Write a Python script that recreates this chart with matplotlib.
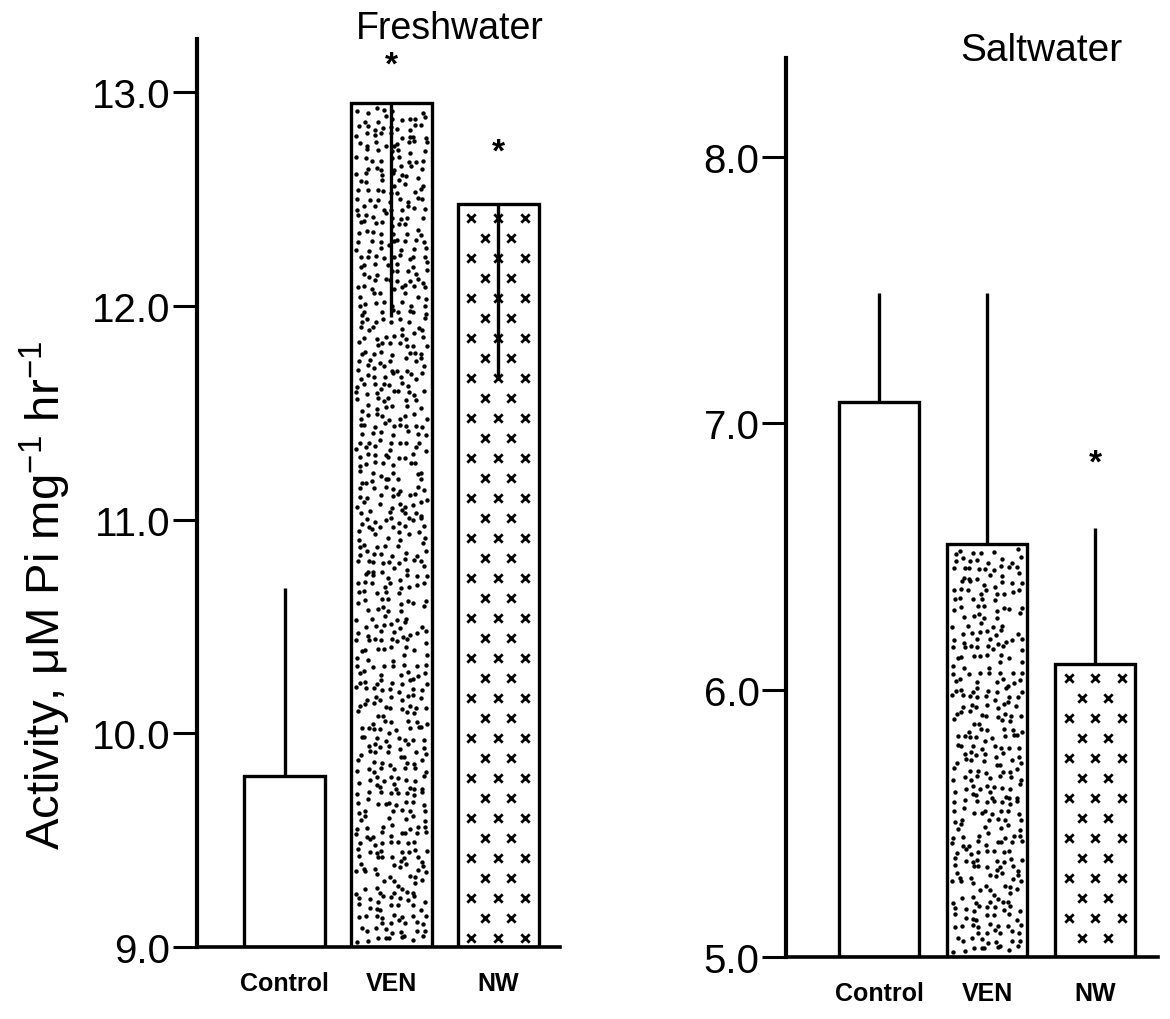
import numpy as np
import matplotlib
matplotlib.use("Agg")
import matplotlib.pyplot as plt

# ---- data -------------------------------------------------------------
categories = ["Control", "VEN", "NW"]

fresh_means = [9.80, 12.95, 12.48]
fresh_err = [0.88, 1.00, 0.82]
fresh_err_dir = [1, -1, -1]          # +1 drawn upward, -1 drawn down into the bar
fresh_sig = [False, True, True]

salt_means = [7.08, 6.55, 6.10]
salt_err = [0.41, 0.94, 0.51]
salt_err_dir = [1, 1, 1]
salt_sig = [False, False, True]

fresh_ticks = [9.0, 10.0, 11.0, 12.0, 13.0]
salt_ticks = [5.0, 6.0, 7.0, 8.0]

textures = ["none", "stipple", "crosses"]

# height (axis units) at which each significance star is set
fresh_star_at = [None, 13.13, 12.72]
salt_star_at = [None, None, 6.85]

# ---- styling ----------------------------------------------------------
plt.rcParams["font.family"] = ["Liberation Sans", "DejaVu Sans"]
INK = "black"
W, H = 1170, 1020
fig = plt.figure(figsize=(W / 100, H / 100), dpi=100)


def px_axes(x0, x1, ytop, ybot):
    return fig.add_axes([x0 / W, 1 - ybot / H, (x1 - x0) / W, (ybot - ytop) / H])


def _hash(a, b, salt):
    v = np.sin(a * 12.9898 + b * 78.233 + salt * 37.719) * 43758.5453
    return v - np.floor(v)


def stipple(ax, x0, x1, y0, y1, step_px=8.0):
    """Jittered-grid dot fill that reads as a printed stipple screen."""
    p0 = ax.transData.transform((x0, y0))
    p1 = ax.transData.transform((x1, y1))
    wpx, hpx = abs(p1[0] - p0[0]), abs(p1[1] - p0[1])
    nx = max(int((wpx - 6) / step_px), 1)
    ny = max(int((hpx - 6) / step_px), 1)
    ii, jj = np.meshgrid(np.arange(nx), np.arange(ny))
    ii = ii.ravel().astype(float)
    jj = jj.ravel().astype(float)
    jx = (_hash(ii, jj, 1.0) - 0.5) * 0.8
    jy = (_hash(ii, jj, 2.0) - 0.5) * 0.8
    keep = _hash(ii, jj, 3.0) > 0.15
    fx = (ii + 0.5 + jx) / nx
    fy = (jj + 0.5 + jy) / ny
    mx, my = 4.0 / wpx, 4.0 / hpx
    xs = x0 + (mx + fx * (1 - 2 * mx)) * (x1 - x0)
    ys = y0 + (my + fy * (1 - 2 * my)) * (y1 - y0)
    ax.scatter(xs[keep], ys[keep], s=10, c=INK, marker="o", linewidths=0, zorder=3)


def crosses(ax, x0, x1, y0, y1, row_px=20.0):
    """Staggered rows of small x marks (3 then 2 per row)."""
    p0 = ax.transData.transform((x0, y0))
    p1 = ax.transData.transform((x1, y1))
    hpx = abs(p1[1] - p0[1])
    dy = (y1 - y0) * row_px / hpx
    w = x1 - x0
    y = y1 - dy * 0.7
    k = 0
    while y > y0 + dy * 0.3:
        fr = [0.17, 0.5, 0.83] if k % 2 == 0 else [0.34, 0.66]
        ax.scatter([x0 + f * w for f in fr], [y] * len(fr), marker="x", s=36,
                   c=INK, linewidths=2.0, zorder=3)
        y -= dy
        k += 1


def panel(ax, means, errs, dirs, stars, ticks, ylim, xlim, width,
          title, title_x, title_y, title_size):
    ax.set_xlim(*xlim)
    ax.set_ylim(*ylim)
    xpos = np.arange(len(categories))
    bars = ax.bar(xpos, [m - ylim[0] for m in means], bottom=ylim[0], width=width,
                  color="white", edgecolor=INK, linewidth=2.4, zorder=2)
    for b, tex in zip(bars, textures):
        bx0 = b.get_x()
        bx1 = bx0 + b.get_width()
        by0 = b.get_y()
        by1 = by0 + b.get_height()
        if tex == "stipple":
            stipple(ax, bx0, bx1, by0, by1)
        elif tex == "crosses":
            crosses(ax, bx0, bx1, by0, by1)
    for x, m, e, d in zip(xpos, means, errs, dirs):
        ax.plot([x, x], [m, m + d * e], color=INK, lw=2.4, zorder=4,
                solid_capstyle="butt")
    for x, s in zip(xpos, stars):
        if s is not None:
            ax.text(x, s, "*", ha="center", va="center", fontsize=24,
                    fontweight="bold", color=INK, zorder=5)

    for sp in ("top", "right"):
        ax.spines[sp].set_visible(False)
    ax.spines["left"].set_linewidth(3.0)
    ax.spines["bottom"].set_linewidth(2.6)
    ax.set_yticks(ticks)
    ax.set_yticklabels([f"{t:.1f}" for t in ticks])
    ax.tick_params(axis="y", direction="out", length=17, width=2.2, pad=2,
                   labelsize=29, colors=INK)
    ax.set_xticks(xpos)
    ax.set_xticklabels(categories, fontsize=18, fontweight="bold")
    ax.tick_params(axis="x", length=0, pad=17)
    ax.text(title_x, title_y, title, ha="center", va="center", fontsize=title_size,
            color=INK, transform=ax.transData, clip_on=False)


ax1 = px_axes(197, 560, 40, 948)
ax2 = px_axes(786, 1158, 59, 958)

panel(ax1, fresh_means, fresh_err, fresh_err_dir, fresh_star_at, fresh_ticks,
      (9.0, 13.25), (-0.82, 2.58), 0.76, "Freshwater", 1.55, 13.30, 27)
panel(ax2, salt_means, salt_err, salt_err_dir, salt_star_at, salt_ticks,
      (5.0, 8.37), (-0.86, 2.58), 0.74, "Saltwater", 1.5, 8.40, 28)

fig.text(45 / W, 1 - 595 / H, r"Activity, $\mathregular{\mu}$M Pi mg$^{\mathregular{-1}}$ hr$^{\mathregular{-1}}$",
         rotation=90, ha="center", va="center", fontsize=34, color=INK)

fig.savefig("out.png", dpi=100, facecolor="white")
